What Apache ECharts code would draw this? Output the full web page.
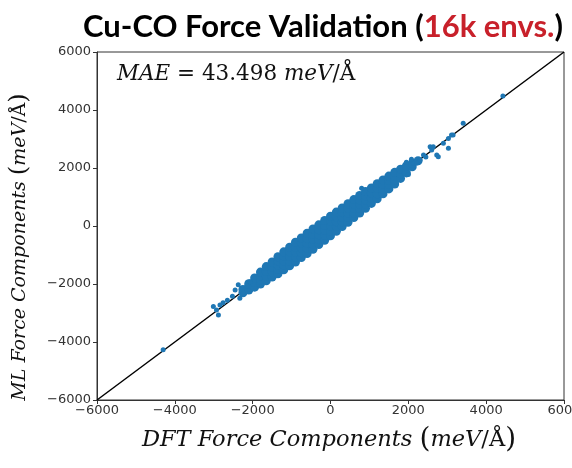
<!DOCTYPE html>
<html>
<head>
<meta charset="utf-8">
<script src="https://cdn.jsdelivr.net/npm/echarts@6/dist/echarts.min.js"></script>
<style>html,body{margin:0;padding:0;background:#fff}#c{width:572px;height:468px}</style>
</head>
<body>
<div id="c"></div>
<script>
// Axis ticks
const tickValues = [-6000, -4000, -2000, 0, 2000, 4000, 6000];
// Parity (y = x) reference line end points
const parityLine = [[-6000, -6000], [6000, 6000]];
// Dense core of the cloud (DFT, ML)
const corePoints = [
  [-2250,-2300],[-2250,-2190],
  [-2100,-2210],[-2100,-1990],
  [-1950,-2110],[-1950,-1950],[-1950,-1790],
  [-1800,-2000],[-1800,-1860],[-1800,-1720],[-1800,-1590],
  [-1650,-1890],[-1650,-1730],[-1650,-1570],[-1650,-1400],
  [-1500,-1760],[-1500,-1590],[-1500,-1410],[-1500,-1240],
  [-1350,-1650],[-1350,-1500],[-1350,-1350],[-1350,-1200],[-1350,-1060],
  [-1200,-1510],[-1200,-1350],[-1200,-1200],[-1200,-1040],[-1200,-890],
  [-1050,-1370],[-1050,-1210],[-1050,-1050],[-1050,-890],[-1050,-730],
  [-900,-1240],[-900,-1070],[-900,-900],[-900,-730],[-900,-560],
  [-750,-1090],[-750,-920],[-750,-750],[-750,-580],[-750,-410],
  [-600,-950],[-600,-775],[-600,-600],[-600,-425],[-600,-250],
  [-450,-800],[-450,-625],[-450,-450],[-450,-275],[-450,-100],
  [-300,-640],[-300,-470],[-300,-300],[-300,-130],[-300,40],
  [-150,-490],[-150,-320],[-150,-150],[-150,20],[-150,190],
  [0,-340],[0,-170],[0,0],[0,170],[0,340],
  [150,-180],[150,-15],[150,150],[150,315],[150,480],
  [300,-20],[300,140],[300,300],[300,460],[300,620],
  [450,130],[450,290],[450,450],[450,610],[450,770],
  [600,290],[600,445],[600,600],[600,755],[600,910],
  [750,450],[750,600],[750,750],[750,900],[750,1050],
  [900,610],[900,755],[900,900],[900,1045],[900,1190],
  [1050,780],[1050,960],[1050,1140],[1050,1310],
  [1200,940],[1200,1110],[1200,1290],[1200,1460],
  [1350,1110],[1350,1270],[1350,1430],[1350,1590],
  [1500,1280],[1500,1430],[1500,1570],[1500,1720],
  [1650,1450],[1650,1590],[1650,1710],[1650,1850],
  [1800,1640],[1800,1800],[1800,1960],
  [1950,1830],[1950,2070],
  [2100,2040],[2100,2160],
  [2250,2250]
];
// Sparse outlying points
const fringePoints = [
  [-4300,-4270],[-3010,-2780],[-2930,-2900],[-2840,-2720],[-2880,-3070],
  [-2760,-2650],[-2650,-2560],[-2450,-2210],[-2370,-2030],[-2240,-2320],
  [-2330,-2490],[-2070,-1920],[-2520,-2420],[-2150,-2060],
  [800,1300],[2130,2160],[2300,2280],[2390,2450],[2560,2730],[2600,2620],
  [2640,2730],[2730,2450],[2770,2390],[3030,3020],[3110,3140],[3030,2680],
  [3150,3140],[3410,3540],[4430,4480],[2210,2160],[2080,2300],[1950,2200],
  [2000,1780],[2450,2380],[2900,2850]
];
const titleMain = 'Cu-CO Force Validation (';
const titleRed = '16k envs.';
const maeValue = '43.498';

const chart = echarts.init(document.getElementById('c'), null, {renderer: 'canvas'});
const axisCommon = {
  min: -6000, max: 6000, interval: 2000,
  axisLine: {show: true, onZero: false, lineStyle: {color: '#333', width: 1}},
  axisTick: {show: true, inside: false, length: 4, lineStyle: {color: '#333'}},
  splitLine: {show: false},
  axisLabel: {
    fontFamily: 'DejaVu Sans', fontSize: 13, color: '#333',
    formatter: v => tickValues.includes(v) ? String(v).replace('-', '\u2212') : ''
  }
};
chart.setOption({
  animation: false,
  backgroundColor: '#fff',
  grid: {left: 97, right: 8, top: 52, bottom: 68, show: true, borderColor: '#333', borderWidth: 1,
         containLabel: false, outerBoundsMode: 'none'},
  xAxis: Object.assign({type: 'value'}, axisCommon, {axisLabel: Object.assign({}, axisCommon.axisLabel, {margin: 4})}),
  yAxis: Object.assign({type: 'value'}, axisCommon, {axisLabel: Object.assign({}, axisCommon.axisLabel, {margin: 6})}),
  series: [
    {type: 'line', data: parityLine, symbol: 'none', lineStyle: {color: '#000', width: 1.5}, z: 1},
    {type: 'scatter', data: corePoints, symbolSize: 9, itemStyle: {color: '#1f77b4', opacity: 1}, z: 2},
    {type: 'scatter', data: fringePoints, symbolSize: 5, itemStyle: {color: '#1f77b4', opacity: 1}, z: 2}
  ],
  graphic: [
    {type: 'text', x: 323, y: 27, style: {
      text: '{a|' + titleMain + '}{b|' + titleRed + '}{a|)}',
      align: 'center', verticalAlign: 'middle',
      rich: {
        a: {fontFamily: 'Lato', fontWeight: 'bold', fontSize: 31, fill: '#000'},
        b: {fontFamily: 'Lato', fontWeight: 'bold', fontSize: 31, fill: '#c8202a'}
      }
    }},
    {type: 'text', x: 117, y: 63, style: {
      text: '{i|MAE}{r| = ' + maeValue + ' }{i|meV}{r|/Å}',
      rich: {
        i: {fontFamily: 'DejaVu Serif', fontStyle: 'italic', fontSize: 21.5, fill: '#111'},
        r: {fontFamily: 'DejaVu Serif', fontSize: 21.5, fill: '#111'}
      }
    }},
    {type: 'text', x: 329, y: 440, style: {
      text: '{i|DFT Force Components }{p|(}{i|meV}{r|/Å}{p|)}',
      align: 'center', verticalAlign: 'middle',
      rich: {
        i: {fontFamily: 'DejaVu Serif', fontStyle: 'italic', fontSize: 22.5, fill: '#111'},
        r: {fontFamily: 'DejaVu Serif', fontSize: 22.5, fill: '#111'},
        p: {fontFamily: 'DejaVu Serif', fontSize: 28, fill: '#111'}
      }
    }},
    {type: 'text', x: 20, y: 247, rotation: Math.PI / 2, style: {
      text: '{i|ML Force Components }{p|(}{i|meV}{r|/Å}{p|)}',
      align: 'center', verticalAlign: 'middle',
      rich: {
        i: {fontFamily: 'DejaVu Serif', fontStyle: 'italic', fontSize: 19, fill: '#111'},
        r: {fontFamily: 'DejaVu Serif', fontSize: 19, fill: '#111'},
        p: {fontFamily: 'DejaVu Serif', fontSize: 24, fill: '#111'}
      }
    }}
  ]
});
</script>
</body>
</html>
